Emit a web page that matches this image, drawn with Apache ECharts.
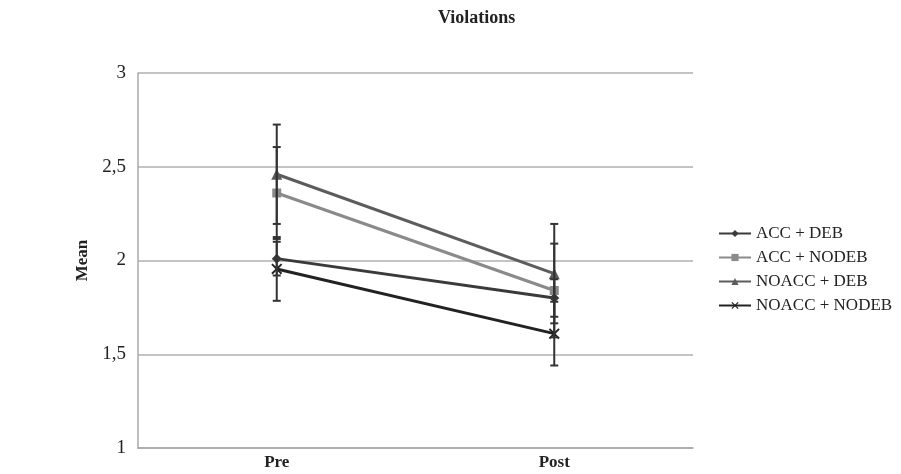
<!DOCTYPE html>
<html>
<head>
<meta charset="utf-8">
<script src="https://cdn.jsdelivr.net/npm/echarts@6/dist/echarts.min.js"></script>
<style>
  html, body { margin: 0; padding: 0; background: #fff; }
  #chart { width: 901px; height: 474px; }
</style>
</head>
<body>
<div id="chart"></div>
<script>
// categories and values
var categories = ['Pre', 'Post'];
var seriesNames = ['ACC + DEB', 'ACC + NODEB', 'NOACC + DEB', 'NOACC + NODEB'];
var accDeb = [2.01, 1.80];
var accNodeb = [2.36, 1.84];
var noaccDeb = [2.46, 1.93];
var noaccNodeb = [1.955, 1.61];
// half-width of each error bar
var errAccDeb = [0.09, 0.10];
var errAccNodeb = [0.245, 0.25];
var errNoaccDeb = [0.265, 0.265];
var errNoaccNodeb = [0.17, 0.17];

var values = [accDeb, accNodeb, noaccDeb, noaccNodeb];
var errors = [errAccDeb, errAccNodeb, errNoaccDeb, errNoaccNodeb];
var colors = ['#3a3a3a', '#8a8a8a', '#5c5c5c', '#222222'];
var xShape = 'path://M0,1.2L1.2,0L5,3.8L8.8,0L10,1.2L6.2,5L10,8.8L8.8,10L5,6.2L1.2,10L0,8.8L3.8,5Z';
var symbols = ['diamond', 'rect', 'triangle', xShape];
var symbolSizes = [10, 9, 11, 11];

var serif = '"Liberation Serif", "DejaVu Serif", serif';

// error bar rows: [category index, low, high]
var errRows = [];
for (var i = 0; i < values.length; i++) {
    for (var j = 0; j < categories.length; j++) {
        errRows.push([j, values[i][j] - errors[i][j], values[i][j] + errors[i][j]]);
    }
}

var lineSeries = seriesNames.map(function (name, i) {
    return {
        name: name,
        type: 'line',
        data: values[i],
        symbol: symbols[i],
        symbolSize: symbolSizes[i],
        lineStyle: { color: colors[i], width: 3 },
        itemStyle: { color: colors[i] },
        z: 3
    };
});

var chart = echarts.init(document.getElementById('chart'));
var option = {
    animation: false,
    backgroundColor: '#fff',
    title: {
        text: 'Violations',
        left: 433,
        top: 4,
        textStyle: { fontFamily: serif, fontSize: 18, fontWeight: 'bold', color: '#222' }
    },
    legend: {
        orient: 'vertical',
        left: 713,
        top: 220,
        itemGap: 7,
        itemWidth: 32,
        itemHeight: 9,
        data: seriesNames,
        textStyle: { fontFamily: serif, fontSize: 17, color: '#222' }
    },
    grid: { left: 138, right: 208, top: 73, bottom: 26, containLabel: false },
    xAxis: {
        type: 'category',
        data: categories,
        boundaryGap: true,
        axisLine: { lineStyle: { color: '#a8a8a8', width: 1.5 } },
        axisTick: { show: false },
        axisLabel: { fontFamily: serif, fontSize: 17, fontWeight: 'bold', color: '#222', margin: 6 }
    },
    yAxis: {
        type: 'value',
        min: 1,
        max: 3,
        interval: 0.5,
        name: 'Mean',
        nameLocation: 'middle',
        nameGap: 42,
        nameRotate: 90,
        nameTextStyle: { fontFamily: serif, fontSize: 17, fontWeight: 'bold', color: '#222' },
        axisLine: { show: true, lineStyle: { color: '#a8a8a8', width: 1.5 } },
        axisTick: { show: false },
        splitLine: { lineStyle: { color: '#b0b0b0', width: 1.5 } },
        axisLabel: {
            fontFamily: serif,
            fontSize: 19,
            color: '#222',
            margin: 12,
            formatter: function (v) { return String(v).replace('.', ','); }
        }
    },
    series: lineSeries.concat([{
        type: 'custom',
        name: 'err',
        data: errRows,
        encode: { x: 0, y: [1, 2] },
        z: 4,
        renderItem: function (params, api) {
            var lo = api.coord([api.value(0), api.value(1)]);
            var hi = api.coord([api.value(0), api.value(2)]);
            var w = 4;
            var st = { stroke: '#333', lineWidth: 2 };
            return {
                type: 'group',
                children: [
                    { type: 'line', shape: { x1: lo[0], y1: lo[1], x2: hi[0], y2: hi[1] }, style: st },
                    { type: 'line', shape: { x1: lo[0] - w, y1: lo[1], x2: lo[0] + w, y2: lo[1] }, style: st },
                    { type: 'line', shape: { x1: hi[0] - w, y1: hi[1], x2: hi[0] + w, y2: hi[1] }, style: st }
                ]
            };
        }
    }])
};
chart.setOption(option);
</script>
</body>
</html>
